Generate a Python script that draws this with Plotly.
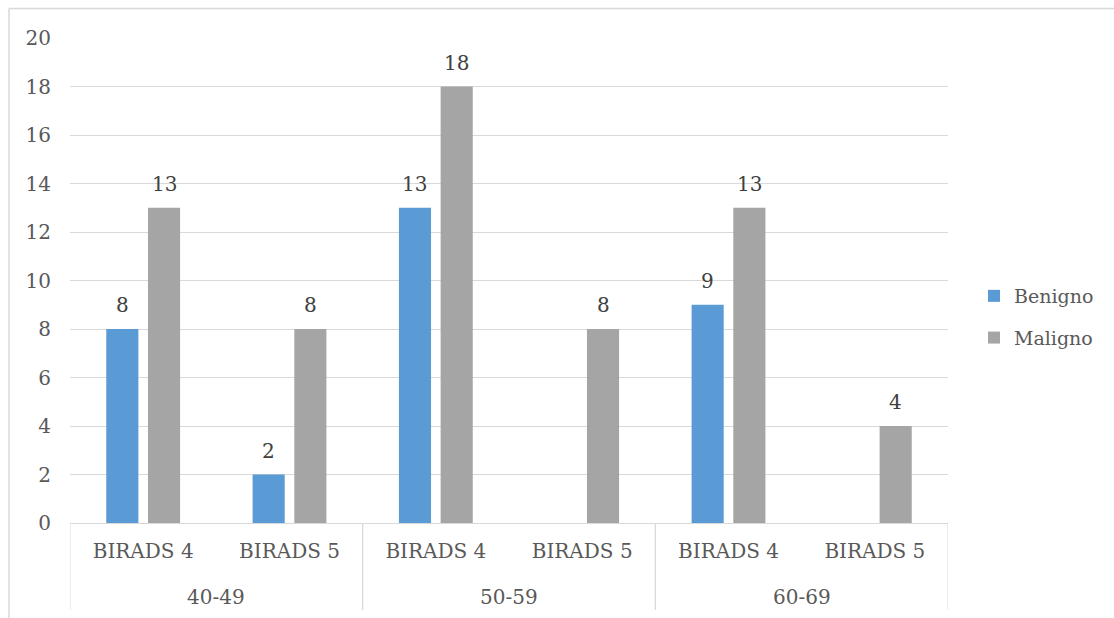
import plotly.graph_objects as go

groups = ["40-49", "40-49", "50-59", "50-59", "60-69", "60-69"]
subcats = ["BIRADS 4", "BIRADS 5", "BIRADS 4", "BIRADS 5", "BIRADS 4", "BIRADS 5"]
benigno = [8, 2, 13, None, 9, None]
maligno = [13, 8, 18, 8, 13, 4]
series_names = ["Benigno", "Maligno"]
series_colors = ["#5B9BD5", "#A5A5A5"]
y_ticks = list(range(0, 21, 2))

FONT = "DejaVu Serif"
FS = 20
W, H = 1114, 618
L, R, T, B = 70, 166, 38, 95
BARGAP, BARGROUPGAP = 0.43, 0.23
pw = W - L - R
ph = H - T - B

xi = list(range(len(subcats)))

fig = go.Figure()
for i, (name, vals, col) in enumerate(zip(series_names, [benigno, maligno], series_colors)):
    fig.add_trace(go.Bar(
        x=xi, y=vals, name=name, marker_color=col,
        marker_line_width=0, legendgroup=name,
    ))

# data labels
nser = len(series_names)
slot = (1 - BARGAP) / nser
for i, vals in enumerate([benigno, maligno]):
    off = -(1 - BARGAP) / 2 + slot * (i + 0.5)
    for j, v in enumerate(vals):
        if v is None:
            continue
        fig.add_annotation(x=j + off, y=v, text=str(v), showarrow=False,
                           xref="x", yref="y", yanchor="middle", yshift=24,
                           font=dict(family=FONT, size=FS, color="#404040"))

# group labels and dividers
uniq = []
for g in groups:
    if g not in uniq:
        uniq.append(g)
div_y = -(610 - (H - B)) / ph
for g in uniq:
    idx = [k for k, gg in enumerate(groups) if gg == g]
    fig.add_annotation(x=sum(idx) / len(idx), y=-(597 - (H - B)) / ph, xref="x", yref="paper",
                       text=g, showarrow=False, yanchor="middle",
                       font=dict(family=FONT, size=FS, color="#595959"))
    for edge in (min(idx) - 0.5, max(idx) + 0.5):
        fig.add_shape(type="line", xref="x", yref="paper", x0=edge, x1=edge, y0=0, y1=div_y,
                      line=dict(color="#D9D9D9", width=1))

bx = (9 - L) / pw
fig.add_shape(type="line", xref="paper", yref="paper",
              x0=bx, x1=(W - L) / pw + 0.01, y0=(H - B - 8.5) / ph, y1=(H - B - 8.5) / ph,
              line=dict(color="#D9D9D9", width=1.5))
fig.add_shape(type="line", xref="paper", yref="paper",
              x0=bx, x1=bx, y0=(H - B - 8.5) / ph, y1=-B / ph - 0.01,
              line=dict(color="#D9D9D9", width=1.5))

fig.update_layout(
    width=W, height=H,
    margin=dict(l=L, r=R, t=T, b=B, autoexpand=False),
    paper_bgcolor="white", plot_bgcolor="white",
    barmode="group", bargap=BARGAP, bargroupgap=BARGROUPGAP,
    font=dict(family=FONT, size=FS, color="#595959"),
    legend=dict(x=(974 - L) / pw, y=(H - B - 317) / ph, xanchor="left", yanchor="middle",
                font=dict(family=FONT, size=19, color="#595959"),
                traceorder="grouped", tracegroupgap=14, bgcolor="rgba(0,0,0,0)"),
    showlegend=True,
)
fig.update_xaxes(
    range=[-0.5, len(subcats) - 0.5], tickvals=xi, ticktext=subcats,
    showgrid=False, showline=True, linecolor="#D9D9D9", linewidth=1, zeroline=False,
    ticks="", ticklabelstandoff=10,
    tickfont=dict(family=FONT, size=FS, color="#595959"),
)
fig.update_yaxes(
    range=[0, 20], tickvals=y_ticks, showgrid=True, gridcolor="#D9D9D9", gridwidth=1,
    zeroline=False, showline=False, ticks="", ticklabelstandoff=18,
    tickfont=dict(family=FONT, size=FS, color="#595959"),
)

fig.write_html("out.html")
